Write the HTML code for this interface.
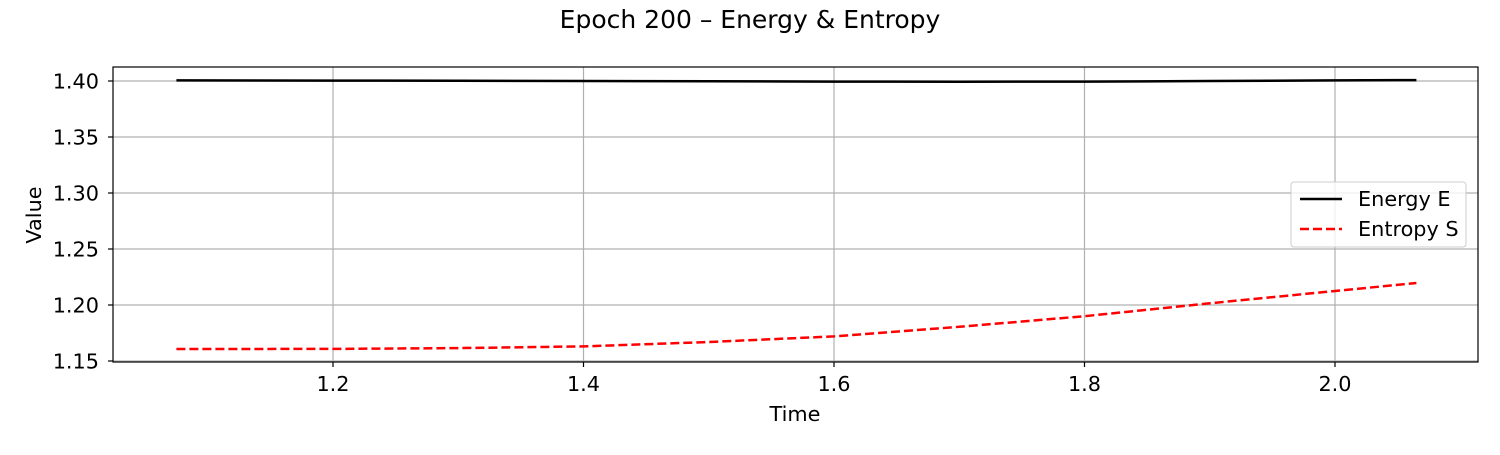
<!DOCTYPE html>
<html><head><meta charset="utf-8"><style>
body{margin:0;background:#fff;}
svg text{font-family:"DejaVu Sans","Liberation Sans",sans-serif;fill:#000;}
</style></head><body>
<svg id="chart" width="1500" height="450" xmlns="http://www.w3.org/2000/svg">
<rect width="1500" height="450" fill="#fff"/>
<text x="750" y="28" text-anchor="middle" font-size="25">Epoch 200 – Energy &amp; Entropy</text>
<g id="grid"></g>
<g id="series"></g>
<rect x="113" y="67" width="1365" height="295" fill="none" stroke="#000" stroke-width="1.2"/>
<g id="ticks"></g>
<text x="795" y="421" text-anchor="middle" font-size="20.8">Time</text>
<text transform="translate(41,215) rotate(-90)" text-anchor="middle" font-size="20.8">Value</text>
<g>
<rect x="1291" y="182" width="175" height="65" rx="3" fill="#fff" fill-opacity="0.8" stroke="#ccc"/>
<line x1="1300" y1="199" x2="1342" y2="199" stroke="#000" stroke-width="2.5"/>
<text x="1358" y="206" font-size="20.8">Energy E</text>
<line x1="1300" y1="229" x2="1342" y2="229" stroke="#f00" stroke-width="2.5" stroke-dasharray="9,4"/>
<text x="1358" y="236" font-size="20.8">Entropy S</text>
</g>
</svg>
<script>
const times=[1.075,1.2,1.3,1.4,1.5,1.6,1.7,1.8,1.9,2.0,2.065];
const energy=[1.4005,1.4004,1.4002,1.4,1.3998,1.3995,1.3994,1.3995,1.4,1.4005,1.4008];
const entropy=[1.1607,1.1608,1.1615,1.163,1.167,1.172,1.1805,1.19,1.2015,1.2125,1.2196];
const xTicks=[1.2,1.4,1.6,1.8,2.0];
const yTicks=[1.15,1.20,1.25,1.30,1.35,1.40];
const X=v=>333+(v-1.2)*1252.5;
const Y=v=>81+(1.40-v)*1120;
const NS="http://www.w3.org/2000/svg";
const grid=document.getElementById('grid'),ticks=document.getElementById('ticks'),series=document.getElementById('series');
function mk(t,a,p){const e=document.createElementNS(NS,t);for(const k in a)e.setAttribute(k,a[k]);p.appendChild(e);return e;}
xTicks.forEach(v=>{
 const g=mk('line',{x1:X(v),x2:X(v),y1:67,y2:362,stroke:'#b0b0b0','stroke-width':1.2},grid);
 
 
 mk('line',{x1:X(v),x2:X(v),y1:362,y2:367,stroke:'#000','stroke-width':1.2},ticks);
 const t=mk('text',{x:X(v),y:391,'text-anchor':'middle','font-size':20.8},ticks);t.textContent=v.toFixed(1);
 
 
});
yTicks.forEach(v=>{
 const g=mk('line',{x1:113,x2:1478,y1:Y(v),y2:Y(v),stroke:'#b0b0b0','stroke-width':1.2},grid);
 
 
 mk('line',{x1:108,x2:113,y1:Y(v),y2:Y(v),stroke:'#000','stroke-width':1.2},ticks);
 const t=mk('text',{x:99,y:Y(v)+7.5,'text-anchor':'end','font-size':20.8},ticks);t.textContent=v.toFixed(2);
 
 
});
function path(arr){return times.map((t,i)=>(i?'L':'M')+X(t).toFixed(1)+','+Y(arr[i]).toFixed(1)).join(' ');}
const e=mk('path',{d:path(energy),fill:'none',stroke:'#000','stroke-width':2.5},series);


const s=mk('path',{d:path(entropy),fill:'none',stroke:'#f00','stroke-width':2.5,'stroke-dasharray':'9,4'},series);


</script>
</body></html>
